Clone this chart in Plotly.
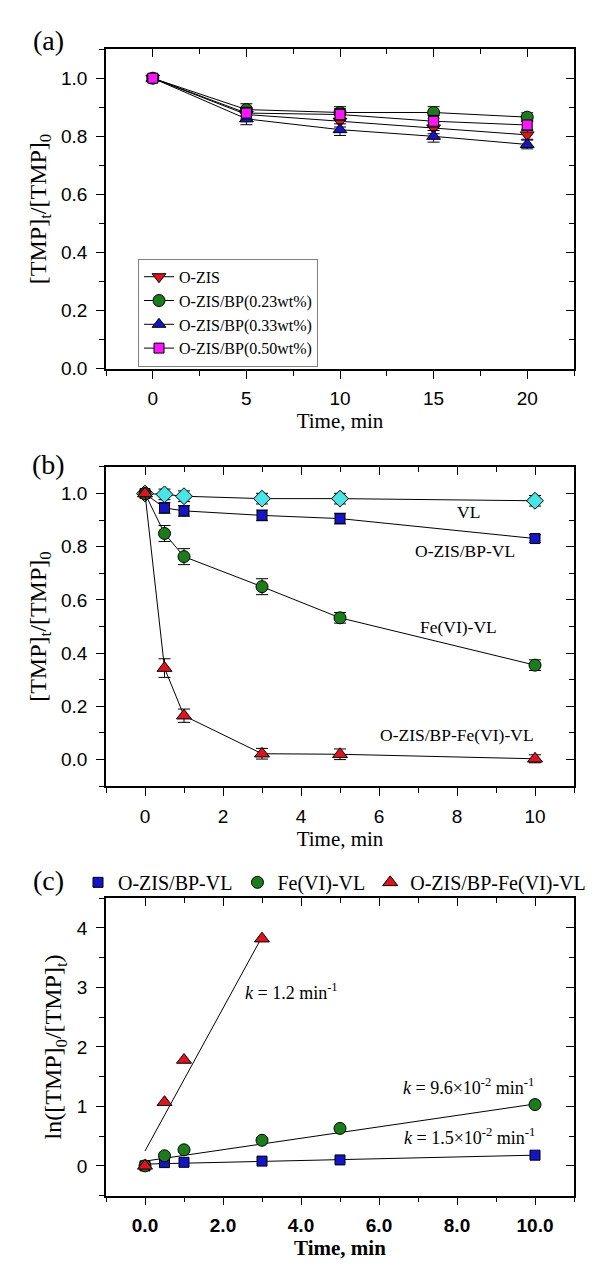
import plotly.graph_objects as go

# ---------------- data ----------------
# panel (a)
time_a = [0, 5, 10, 15, 20]
ozis_a = [1.0, 0.875, 0.852, 0.829, 0.805]
bp023_a = [1.0, 0.892, 0.882, 0.882, 0.866]
bp033_a = [1.0, 0.860, 0.823, 0.800, 0.772]
bp050_a = [1.0, 0.880, 0.875, 0.852, 0.839]
err_a = [0.01, 0.02, 0.02, 0.02, 0.015]
names_a = ["O-ZIS", "O-ZIS/BP(0.23wt%)", "O-ZIS/BP(0.33wt%)", "O-ZIS/BP(0.50wt%)"]

# panel (b)
time_b = [0, 0.5, 1, 3, 5, 10]
vl_b = [1.0, 0.997, 0.990, 0.981, 0.981, 0.973]
ozisbp_vl_b = [1.0, 0.946, 0.935, 0.918, 0.906, 0.831]
fe_vl_b = [1.0, 0.850, 0.763, 0.650, 0.533, 0.355]
ozisbp_fe_vl_b = [1.0, 0.344, 0.165, 0.022, 0.020, 0.003]
err_vl_b = [0.01, 0.02, 0.02, 0.02, 0.02, 0.02]
err_ozisbp_vl_b = [0.01, 0.02, 0.02, 0.02, 0.02, 0.015]
err_fe_vl_b = [0.01, 0.03, 0.03, 0.03, 0.02, 0.02]
err_ozisbp_fe_vl_b = [0.01, 0.035, 0.025, 0.02, 0.02, 0.015]
labels_b = ["VL", "O-ZIS/BP-VL", "Fe(VI)-VL", "O-ZIS/BP-Fe(VI)-VL"]

# panel (c)
time_c = [0, 0.5, 1, 3, 5, 10]
ln_ozisbp_vl = [0.0, 0.055, 0.06, 0.08, 0.10, 0.18]
ln_fe_vl = [0.0, 0.17, 0.27, 0.43, 0.63, 1.03]
time_c_red = [0, 0.5, 1, 3]
ln_ozisbp_fe_vl = [0.0, 1.07, 1.78, 3.82]
fit_k = [0.015, 0.096, 1.2]
fit_b = [0.03, 0.08, 0.25]
fit_xend = [10, 10, 3]
names_c = ["O-ZIS/BP-VL", "Fe(VI)-VL", "O-ZIS/BP-Fe(VI)-VL"]

# ---------------- styles ----------------
RED = "#e3121c"
GREEN = "#1a7d1a"
BLUE = "#1414c8"
MAG = "#ff14ff"
CYAN = "#46e6e6"
SERIF = "Liberation Serif"
SANS = "Liberation Sans"

W, H = 598, 1268
xd = [98 / W, 566 / W]
yd_a = [1 - 364 / H, 1 - 41.5 / H]
yd_b = [1 - 785 / H, 1 - 463 / H]
yd_c = [1 - 1198 / H, 1 - 898 / H]

fig = go.Figure()

mk_line = dict(color="black", width=1)
eb = lambda arr: dict(type="data", array=arr, visible=True, color="black", thickness=1, width=6)

# panel a traces
for y, nm, col, sym in zip([ozis_a, bp023_a, bp033_a, bp050_a], names_a,
                           [RED, GREEN, BLUE, MAG],
                           ["triangle-down", "circle", "triangle-up", "square"]):
    fig.add_trace(go.Scatter(x=time_a, y=y, name=nm, mode="lines+markers",
                             line=dict(color="black", width=1),
                             marker=dict(symbol=sym, size=12 if sym != "square" else 10,
                                         color=col, line=mk_line),
                             error_y=eb(err_a), xaxis="x", yaxis="y", legend="legend"))

# panel b traces
for y, e, col, sym, sz in zip([vl_b, ozisbp_vl_b, fe_vl_b, ozisbp_fe_vl_b],
                              [err_vl_b, err_ozisbp_vl_b, err_fe_vl_b, err_ozisbp_fe_vl_b],
                              [CYAN, BLUE, GREEN, RED],
                              ["diamond", "square", "circle", "triangle-up"],
                              [13, 10, 12, 13]):
    fig.add_trace(go.Scatter(x=time_b, y=y, mode="lines+markers", showlegend=False,
                             line=dict(color="black", width=1),
                             marker=dict(symbol=sym, size=sz, color=col, line=mk_line),
                             error_y=eb(e), xaxis="x2", yaxis="y2"))

# panel c fit lines
for k, b, xe in zip(fit_k, fit_b, fit_xend):
    fig.add_trace(go.Scatter(x=[0, xe], y=[b, b + k * xe], mode="lines", showlegend=False,
                             line=dict(color="black", width=1), xaxis="x3", yaxis="y3"))
# panel c points
for xx, y, nm, col, sym, sz in zip([time_c, time_c, time_c_red],
                                   [ln_ozisbp_vl, ln_fe_vl, ln_ozisbp_fe_vl], names_c,
                                   [BLUE, GREEN, RED], ["square", "circle", "triangle-up"],
                                   [10, 12, 13]):
    fig.add_trace(go.Scatter(x=xx, y=y, name=nm, mode="markers",
                             marker=dict(symbol=sym, size=sz, color=col, line=mk_line),
                             xaxis="x3", yaxis="y3", legend="legend2"))

# dummy traces for mirrored (inside-tick) axes
for i in range(4, 7):
    fig.add_trace(go.Scatter(x=[], y=[], showlegend=False, xaxis=f"x{i}", yaxis=f"y{i}"))

tickfont = dict(family=SANS, size=19, color="black")
xtitlefont = dict(family=SERIF, size=21, color="black")
ytitlefont = dict(family=SERIF, size=24, color="black")
TL, MTL = 8, 5


def main_x(rng, dtick, mdt, dom_anchor, title, fmt=None, bold=False):
    tf = dict(tickfont)
    ttf = dict(xtitlefont)
    if bold:
        tf["weight"] = "bold"
        ttf["weight"] = "bold"
    d = dict(domain=xd, range=rng, anchor=dom_anchor, dtick=dtick, tick0=0,
             showline=True, linecolor="black", linewidth=1.5, ticks="outside",
             ticklen=TL, tickwidth=1.2, tickcolor="black", showgrid=False, zeroline=False,
             ticklabelstandoff=4,
             minor=dict(dtick=mdt, tick0=0, ticks="outside", ticklen=MTL, tickcolor="black", tickwidth=1.2),
             tickfont=tf, title=dict(text=title, font=ttf, standoff=0))
    if fmt:
        d["tickformat"] = fmt
    return d


def main_y(rng, dtick, mdt, dom, anchor, title, fmt=None):
    d = dict(domain=dom, range=rng, anchor=anchor, dtick=dtick, tick0=0,
             showline=True, linecolor="black", linewidth=1.5, ticks="outside",
             ticklen=TL, tickwidth=1.2, tickcolor="black", showgrid=False, zeroline=False,
             ticklabelstandoff=5,
             minor=dict(dtick=mdt, tick0=0, ticks="outside", ticklen=MTL, tickcolor="black", tickwidth=1.2),
             tickfont=tickfont, title=dict(text=title, font=ytitlefont, standoff=8))
    if fmt:
        d["tickformat"] = fmt
    return d


def mirror_x(rng, dtick, mdt, over, anchor):
    return dict(domain=xd, range=rng, overlaying=over, anchor=anchor, side="top", dtick=dtick, tick0=0,
                showline=True, linecolor="black", linewidth=1.5, ticks="inside", ticklen=TL,
                tickwidth=1.2, tickcolor="black", showticklabels=False, showgrid=False, zeroline=False,
                minor=dict(dtick=mdt, tick0=0, ticks="inside", ticklen=MTL, tickcolor="black", tickwidth=1.2))


def mirror_y(rng, dtick, mdt, over, anchor):
    return dict(range=rng, overlaying=over, anchor=anchor, side="right", dtick=dtick, tick0=0,
                showline=True, linecolor="black", linewidth=1.5, ticks="inside", ticklen=TL,
                tickwidth=1.2, tickcolor="black", showticklabels=False, showgrid=False, zeroline=False,
                minor=dict(dtick=mdt, tick0=0, ticks="inside", ticklen=MTL, tickcolor="black", tickwidth=1.2))


ra_x, ra_y = [-2.5, 22.5], [0, 1.1]
rb_x, rb_y = [-1, 11], [-0.1, 1.1]
rc_x, rc_y = [-1, 11], [-0.5, 4.5]

ytitle_ab = "[TMP]<sub>t</sub>/[TMP]<sub>0</sub>"

fig.update_layout(
    width=W, height=H, margin=dict(l=0, r=0, t=0, b=0),
    paper_bgcolor="white", plot_bgcolor="white",
    xaxis=main_x(ra_x, 5, 2.5, "y", "Time, min"),
    yaxis=main_y(ra_y, 0.2, 0.1, yd_a, "x", ytitle_ab, ".1f"),
    xaxis2=main_x(rb_x, 2, 1, "y2", "Time, min"),
    yaxis2=main_y(rb_y, 0.2, 0.1, yd_b, "x2", ytitle_ab, ".1f"),
    xaxis3=main_x(rc_x, 2, 1, "y3", "Time, min", ".1f", bold=True),
    yaxis3=main_y(rc_y, 1, 0.5, yd_c, "x3", "ln([TMP]<sub>0</sub>/[TMP]<sub>t</sub>)"),
    xaxis4=mirror_x(ra_x, 5, 2.5, "x", "y4"),
    yaxis4=mirror_y(ra_y, 0.2, 0.1, "y", "x4"),
    xaxis5=mirror_x(rb_x, 2, 1, "x2", "y5"),
    yaxis5=mirror_y(rb_y, 0.2, 0.1, "y2", "x5"),
    xaxis6=mirror_x(rc_x, 2, 1, "x3", "y6"),
    yaxis6=mirror_y(rc_y, 1, 0.5, "y3", "x6"),
    legend=dict(x=130 / W, y=1 - 253 / H, xanchor="left", yanchor="top",
                bgcolor="white", bordercolor="#808080", borderwidth=1,
                font=dict(family=SERIF, size=16, color="black"), tracegroupgap=0,
                itemwidth=30),
    legend2=dict(orientation="h", x=70 / W, y=1 - 882 / H, xanchor="left", yanchor="middle",
                 bgcolor="rgba(0,0,0,0)", font=dict(family=SERIF, size=20, color="black"),
                 itemwidth=30),
)

# panel labels
for lab, yy in zip(["(a)", "(b)", "(c)"], [33, 460, 880]):
    fig.add_annotation(text=lab, xref="paper", yref="paper", x=40 / W, y=1 - yy / H,
                       xanchor="center", yanchor="middle",
                       showarrow=False, font=dict(family=SERIF, size=28, color="black"))

# panel b curve labels
for txt, ax_, ay_ in zip(labels_b, [8.3, 8.2, 8.05, 8.0], [0.93, 0.786, 0.50, 0.093]):
    fig.add_annotation(text=txt, xref="x2", yref="y2", x=ax_, y=ay_, showarrow=False,
                       xanchor="center", yanchor="middle",
                       font=dict(family=SERIF, size=17.5, color="black"))

# panel c rate constants
k_texts = ["<i>k</i> = 1.2 min<sup>-1</sup>",
           "<i>k</i> = 9.6×10<sup>-2</sup> min<sup>-1</sup>",
           "<i>k</i> = 1.5×10<sup>-2</sup> min<sup>-1</sup>"]
for txt, ax_, ay_ in zip(k_texts, [3.75, 8.3, 8.33], [2.93, 1.34, 0.49]):
    fig.add_annotation(text=txt, xref="x3", yref="y3", x=ax_, y=ay_, showarrow=False,
                       xanchor="center", yanchor="middle",
                       font=dict(family=SERIF, size=18, color="black"))

fig.write_html("out.html")
